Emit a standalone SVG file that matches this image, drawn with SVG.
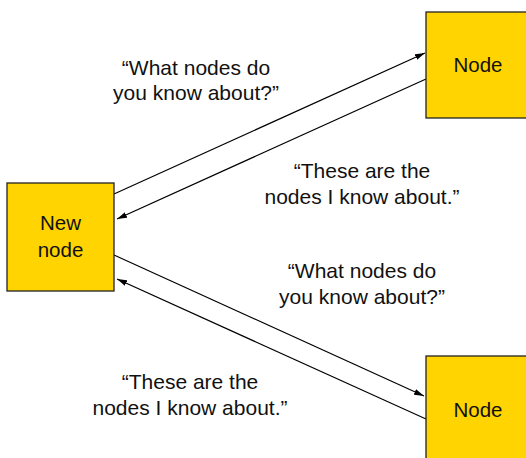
<svg xmlns="http://www.w3.org/2000/svg" width="526" height="458" viewBox="0 0 526 458">
<defs>
<marker id="ah" viewBox="0 0 10 6" refX="10" refY="3" markerWidth="10" markerHeight="6" markerUnits="userSpaceOnUse" orient="auto">
<path d="M0,0 L10,3 L0,6 Z" fill="#000"/>
</marker>
<style>
.box{fill:#FFD400;stroke:#222;stroke-width:1.3}
.lbl{font-family:"Liberation Sans",Arial,sans-serif;font-size:21px;fill:#111;text-anchor:middle}
.nl{font-size:20.5px}
.c{stroke:#000;stroke-width:1.2;fill:none;marker-end:url(#ah)}
</style>
</defs>
<rect width="526" height="458" fill="#fff"/>
<g id="connectors">
<line class="c" x1="114" y1="194" x2="425" y2="53"/>
<line class="c" x1="426" y1="79" x2="117" y2="219"/>
<line class="c" x1="114" y1="255" x2="424" y2="396"/>
<line class="c" x1="426" y1="419" x2="117" y2="279"/>
</g>
<g id="newnode">
<rect class="box" x="7" y="183" width="107" height="108"/>
<text class="lbl nl" x="60.5" y="230">New</text>
<text class="lbl nl" x="60.5" y="257">node</text>
</g>
<g id="node-top">
<rect class="box" x="426" y="12" width="106" height="106"/>
<text class="lbl nl" x="478" y="72">Node</text>
</g>
<g id="node-bottom">
<rect class="box" x="426" y="356" width="106" height="108"/>
<text class="lbl nl" x="478" y="417">Node</text>
</g>
<g id="labels">
<text class="lbl" x="196" y="75">“What nodes do</text>
<text class="lbl" x="196" y="100">you know about?”</text>
<text class="lbl" x="362" y="178">“These are the</text>
<text class="lbl" x="362" y="204">nodes I know about.”</text>
<text class="lbl" x="362" y="278">“What nodes do</text>
<text class="lbl" x="362" y="304">you know about?”</text>
<text class="lbl" x="190" y="389">“These are the</text>
<text class="lbl" x="190" y="415">nodes I know about.”</text>
</g>
</svg>
